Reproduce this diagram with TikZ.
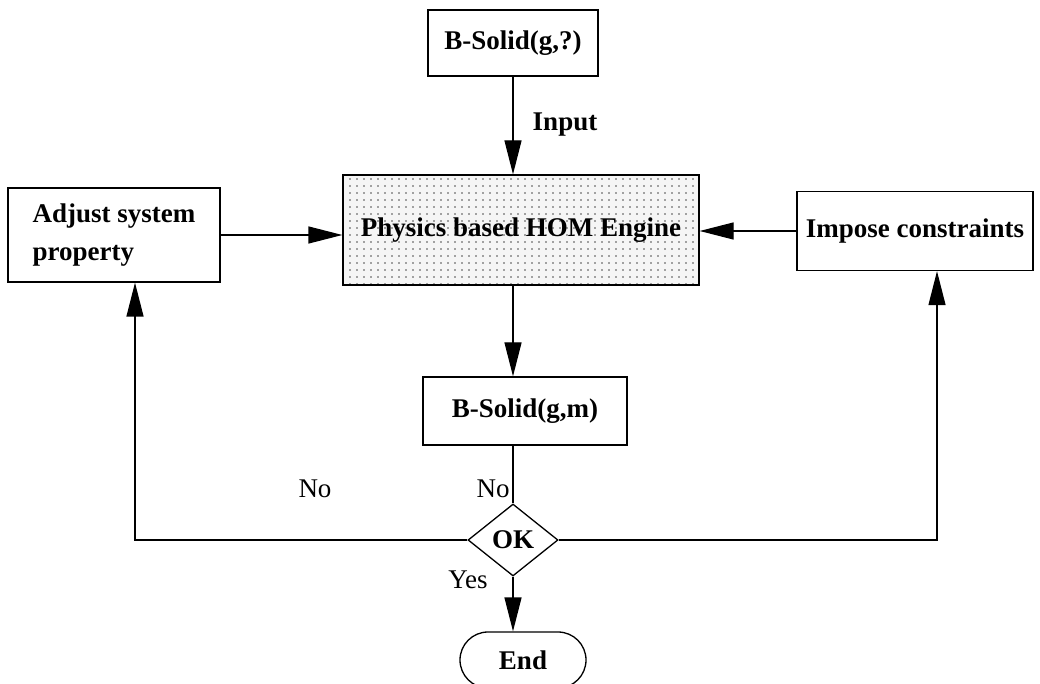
\documentclass[tikz,border=0pt]{standalone}
\usepackage{fontspec}
\setmainfont{Liberation Serif}
\usepackage{tikz}
\usetikzlibrary{arrows.meta,shapes.geometric,shapes.misc,patterns.meta}

\begin{document}
\begin{tikzpicture}[x=1pt,y=1pt]

\tikzset{box/.style={draw, line width=1.3pt, font=\fontsize{27}{38}\selectfont\bfseries, inner sep=4pt},
         engine/.style={box, preaction={fill=gray!8}, pattern={Dots[distance=7pt, radius=0.9pt]}, pattern color=black!70},
         decision/.style={box, diamond, aspect=1.25, inner sep=0pt, minimum width=90pt, minimum height=72pt},
         terminal/.style={box, rounded rectangle, minimum width=134pt, minimum height=56pt},
         flow/.style={line width=1.3pt, -{Triangle[length=34pt, width=17pt]}},
         lbl/.style={font=\fontsize{27}{34}\selectfont}}

\useasboundingbox (0,0) rectangle (1040,683);

\node[box, minimum width=170pt, minimum height=66pt] (guess) at (513,640) {B-Solid(g,?)};
\node[engine, minimum width=356pt, minimum height=110pt] (hom) at (521,453) {Physics based HOM Engine};
\node[box, align=left, minimum width=212pt, minimum height=94pt] (adjust) at (114,448) {Adjust system\\property};
\node[box, minimum width=236pt, minimum height=79pt] (impose) at (915,452) {Impose constraints};
\node[box, minimum width=204pt, minimum height=68pt] (result) at (525,272) {B-Solid(g,m)};
\node[decision] (ok) at (513,143) {OK};
\node[terminal] (end) at (523,23) {End};

% labels
\node[lbl, font=\fontsize{27}{34}\selectfont\bfseries] (input) at (565,558) {Input};
\node[lbl] (noleft) at (315,194) {No};
\node[lbl] (nomid) at (493,194) {No};
\node[lbl] (yes) at (468,103) {Yes};

% connectors
\draw[flow] (ok |- guess.south) -- (ok |- hom.north);
\draw[flow] (adjust.east) -- (adjust.east -| hom.west);
\draw[flow] (impose.west) -- (impose.west -| hom.east);
\draw[flow] (ok |- hom.south) -- (ok |- result.north);
\draw[line width=1.3pt] (ok |- result.south) -- (ok.north);
\draw[flow] (ok.west) -| ([xshift=21pt]adjust.south);
\draw[flow] (ok.east) -| ([xshift=22pt]impose.south);
\draw[flow] (ok.south) -- (ok |- end.north);

\end{tikzpicture}
\end{document}
